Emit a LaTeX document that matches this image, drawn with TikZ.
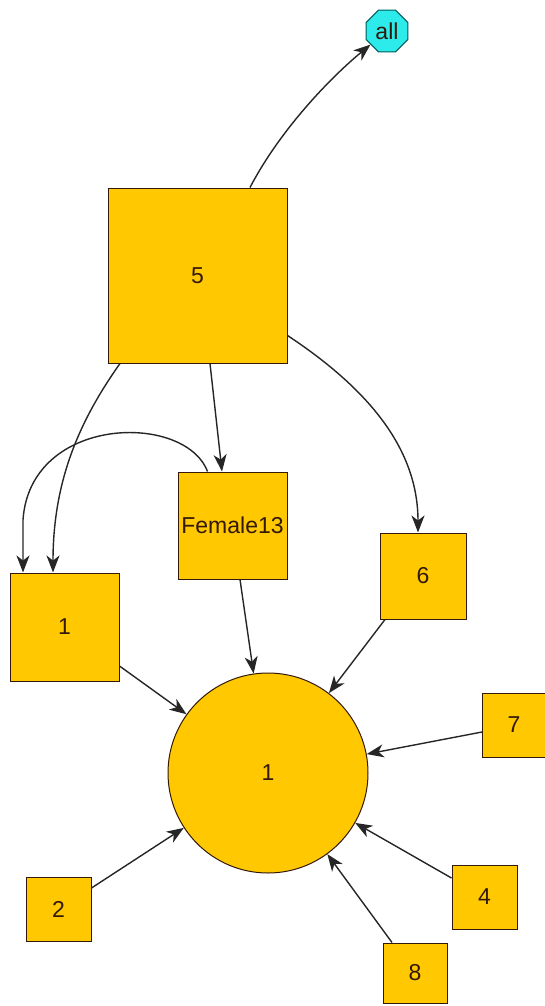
\documentclass[tikz,border=0pt]{standalone}
\usepackage{fontspec}
\setmainfont{Liberation Sans}
\usetikzlibrary{shapes.geometric,arrows.meta}
\definecolor{nodegold}{RGB}{255,200,0}
\definecolor{nodecyan}{RGB}{45,235,235}
\definecolor{nodeline}{RGB}{50,25,10}
\definecolor{tealline}{RGB}{0,90,90}

\begin{document}
\begin{tikzpicture}[x=1pt, y=-1pt,
    every node/.style={font=\fontsize{23}{27}\selectfont, text=nodeline},
    box/.style={rectangle, draw=nodeline, fill=nodegold, line width=1pt, inner sep=0pt},
    edge/.style={-{Stealth[length=17pt,width=13pt,inset=5pt]}, line width=1.4pt, black!85}]
    \useasboundingbox (0,0) rectangle (545,1006);

    % Draw nodes
    \node[regular polygon, regular polygon sides=8, draw=tealline, fill=nodecyan, line width=1pt, minimum size=45pt, inner sep=0pt] (all) at (387,31) {all};
    \node[box, minimum width=179pt, minimum height=175pt] (n5) at (197.5,275.5) {5};
    \node[box, minimum width=109pt, minimum height=107pt] (female) at (232.5,525.5) {Female13};
    \node[box, minimum width=109pt, minimum height=108pt] (n1) at (64.5,627) {1};
    \node[box, minimum width=86pt, minimum height=86pt] (n6) at (423,576) {6};
    \node[circle, draw=nodeline, fill=nodegold, line width=1pt, minimum size=200pt, inner sep=0pt] (c1) at (268,773) {1};
    \node[box, minimum width=63pt, minimum height=64pt] (n7) at (514,725) {7};
    \node[box, minimum width=65pt, minimum height=64pt] (n4) at (484.5,897) {4};
    \node[box, minimum width=64pt, minimum height=60pt] (n8) at (415,973) {8};
    \node[box, minimum width=65pt, minimum height=64pt] (n2) at (58.5,909) {2};

    % Draw connections
    \draw[edge] ([xshift=52.5pt]n5.north) .. controls (280,130) and (330,78) .. (all);
    \draw[edge] ([yshift=-60pt]n5.east) .. controls (370,390) and (418,450) .. ([xshift=-5pt]n6.north);
    \draw[edge] ([xshift=-77.5pt]n5.south) .. controls (80,420) and (53,480) .. ([xshift=-11.5pt]n1.north);
    \draw[edge] ([xshift=-25pt]female.north) .. controls (185,412) and (30,415) .. (23,520) -- ([xshift=-41.5pt]n1.north);
    \draw[edge] (n5.south) ++(12.5pt,0) -- ([xshift=-10.5pt]female.north);
    \draw[edge] ([xshift=7.5pt]female.south) -- (c1);
    \draw[edge] ([yshift=-39pt]n1.east) -- (c1);
    \draw[edge] ([xshift=-38pt]n6.south) -- (c1);
    \draw[edge] ([yshift=-7pt]n7.west) -- (c1);
    \draw[edge] ([yshift=19pt]n4.west) -- (c1);
    \draw[edge] ([xshift=-23pt]n8.north) -- (c1);
    \draw[edge] ([yshift=21pt]n2.east) -- (c1);
\end{tikzpicture}
\end{document}
